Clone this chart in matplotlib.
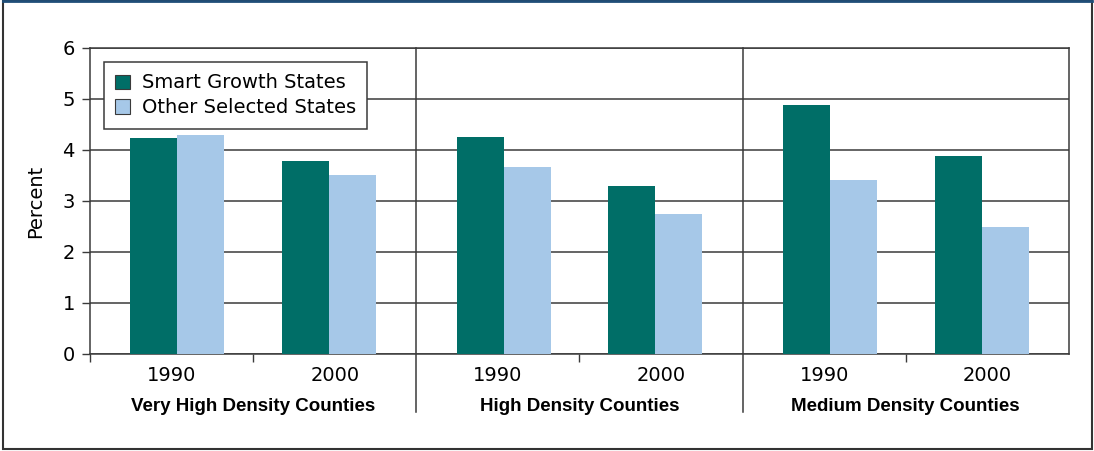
import numpy as np
import matplotlib.pyplot as plt
from matplotlib.patches import Rectangle
from matplotlib.lines import Line2D

years = ['1990', '2000', '1990', '2000', '1990', '2000']
groups = ['Very High Density Counties', 'High Density Counties', 'Medium Density Counties']
smart = [4.24, 3.79, 4.25, 3.29, 4.88, 3.88]
other = [4.29, 3.51, 3.67, 2.75, 3.42, 2.49]

teal = '#006e67'
light = '#a6c8e8'

fig = plt.figure(figsize=(10.94, 4.51), dpi=100)
ax = fig.add_axes([0.0823, 0.2151, 0.8948, 0.6785])

x = np.arange(len(years)) + 0.5
shift = np.array([0.035, -0.035] * 3)
w = 0.288
ax.bar(x + shift - w / 2, smart, w, color=teal, label='Smart Growth States', zorder=3)
ax.bar(x + shift + w / 2, other, w, color=light, label='Other Selected States', zorder=3)

ax.set_xlim(0, 6)
ax.set_ylim(0, 6)
ax.set_yticks(range(7))
ax.yaxis.grid(True, color='#3a3a3a', linewidth=1.1, zorder=1)
ax.tick_params(axis='y', length=6, width=1, color='#3a3a3a', pad=5, labelsize=14)

ax.set_xticks([0, 1, 3, 5])
ax.set_xticklabels([])
ax.tick_params(axis='x', which='major', length=6, width=1, color='#3a3a3a')
ax.set_xticks(x, minor=True)
ax.set_xticklabels(years, minor=True, fontsize=14)
ax.tick_params(axis='x', which='minor', length=0, pad=9)

for s in ax.spines.values():
    s.set_color('#3a3a3a')
    s.set_linewidth(1.1)

# section separators running below the axis
tr = ax.get_xaxis_transform()
for b in [2, 4]:
    ax.plot([b, b], [1, -0.19], transform=tr, color='#3a3a3a', lw=1.1, clip_on=False, zorder=4)

for i, g in enumerate(groups):
    ax.text(2 * i + 1, -0.17, g, transform=tr, ha='center', va='center',
            fontsize=13.5, fontweight='bold', family='Liberation Sans')

ax.set_ylabel('Percent', fontsize=14, labelpad=12)

leg = ax.legend(loc='upper left', bbox_to_anchor=(0.014, 0.955), borderaxespad=0,
                fontsize=14, fancybox=False, framealpha=1, edgecolor='#3a3a3a',
                handlelength=0.75, handleheight=0.75, handletextpad=0.6,
                borderpad=0.6, labelspacing=0.3)
leg.get_frame().set_linewidth(1.1)
for h in leg.legend_handles:
    h.set_edgecolor('#3a3a3a')
    h.set_linewidth(0.8)

# outer frame
fig.patches.append(Rectangle((0.003, 0.004), 0.995, 0.994, transform=fig.transFigure,
                             fill=False, edgecolor='#333333', lw=1.5))
fig.lines.append(Line2D([0.003, 0.998], [0.998, 0.998], transform=fig.transFigure,
                        color='#1f4e79', lw=2))

fig.savefig('out.png', dpi=100)
